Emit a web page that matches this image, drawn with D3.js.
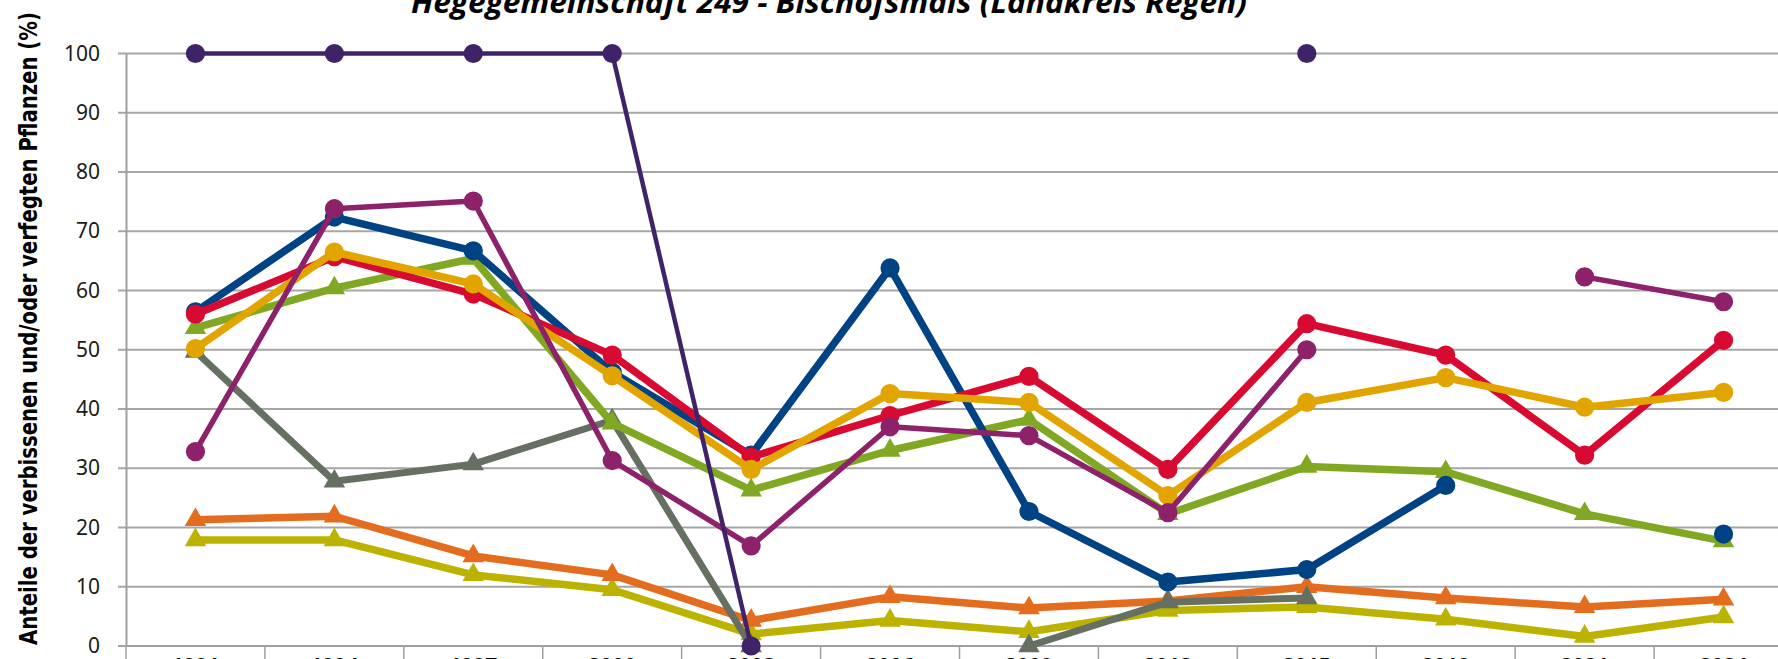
<!DOCTYPE html>
<html>
<head>
<meta charset="utf-8">
<script src="https://cdnjs.cloudflare.com/ajax/libs/d3/7.8.5/d3.min.js"></script>
<style>
    body {margin: 0; background: #fff; overflow: hidden;}
    svg {display: block;}
</style>
</head>
<body>
<div id="chart"></div>
<script>
    // years on the x axis
    var years = ["1991", "1994", "1997", "2000", "2003", "2006", "2009", "2012", "2015", "2018", "2021", "2024"];
    var yTicks = [0, 10, 20, 30, 40, 50, 60, 70, 80, 90, 100];

    // one array per line, null = no value that year
    var olive   = [17.9, 17.9, 12.0, 9.5, 2.0, 4.3, 2.4, 6.0, 6.6, 4.5, 1.6, 4.9];
    var orange  = [21.3, 21.9, 15.2, 12.0, 4.3, 8.3, 6.4, 7.6, 10.0, 8.1, 6.6, 7.9];
    var grey    = [49.7, 27.8, 30.7, 38.1, 0, null, 0, 7.4, 8.1, null, null, null];
    var green   = [53.7, 60.4, 65.4, 37.6, 26.3, 33.0, 38.2, 22.3, 30.3, 29.4, 22.3, 17.7];
    var blue    = [56.4, 72.4, 66.7, 46.2, 32.2, 63.8, 22.7, 10.8, 12.9, 27.1, null, 18.9];
    var red     = [56.0, 65.7, 59.4, 49.1, 31.9, 38.9, 45.5, 29.8, 54.4, 49.1, 32.2, 51.6];
    var yellow  = [50.2, 66.5, 61.1, 45.6, 29.8, 42.6, 41.1, 25.4, 41.1, 45.3, 40.3, 42.8];
    var magenta = [32.8, 73.8, 75.1, 31.3, 16.9, 37.0, 35.5, 22.5, 50.0, null, 62.3, 58.1];
    var purple  = [100, 100, 100, 100, 0, null, null, null, 100, null, null, null];

    var series = [
        {values: olive,   color: "#bbb300", width: 7.5, marker: "triangle"},
        {values: orange,  color: "#e46c1f", width: 7.5, marker: "triangle"},
        {values: grey,    color: "#667062", width: 7,   marker: "triangle"},
        {values: green,   color: "#80a823", width: 7.5, marker: "triangle"},
        {values: blue,    color: "#004385", width: 7.5, marker: "circle"},
        {values: red,     color: "#d90a31", width: 7.5, marker: "circle"},
        {values: yellow,  color: "#e2a500", width: 7.5, marker: "circle"},
        {values: magenta, color: "#8d216a", width: 5.5, marker: "circle"},
        {values: purple,  color: "#3f2369", width: 4.5, marker: "circle"}
    ];

    var W = 1778, H = 659;
    var plot = {left: 126, right: 1793, top: 53.5, bottom: 646};

    var svg = d3.select("#chart").append("svg")
        .attr("width", W)
        .attr("height", H);

    var x = d3.scalePoint()
        .domain(years)
        .range([plot.left, plot.right])
        .padding(0.5);
    var band = x.step();

    var y = d3.scaleLinear()
        .domain([0, 100])
        .range([plot.bottom, plot.top]);

    // gridlines
    svg.append("g")
        .selectAll("line")
        .data(yTicks)
        .enter().append("line")
        .attr("x1", plot.left - 8)
        .attr("x2", W)
        .attr("y1", function(d){ return y(d); })
        .attr("y2", function(d){ return y(d); })
        .attr("stroke", "#a6a6a6")
        .attr("stroke-width", 2);

    // y axis
    var yAxis = svg.append("g")
        .attr("transform", "translate(" + plot.left + ",0)")
        .call(d3.axisLeft(y).tickValues(yTicks).tickSize(0).tickPadding(26));
    yAxis.select(".domain").attr("stroke", "#a0a0a0").attr("stroke-width", 2);
    yAxis.selectAll("text")
        .attr("font-family", "'Noto Sans', 'Open Sans', sans-serif")
        .attr("font-size", "21px")
        .attr("fill", "#1a1a1a");

    // x axis with ticks between the categories
    svg.append("line")
        .attr("x1", plot.left).attr("x2", W)
        .attr("y1", plot.bottom).attr("y2", plot.bottom)
        .attr("stroke", "#a0a0a0").attr("stroke-width", 2);
    svg.append("g")
        .selectAll("line")
        .data(years)
        .enter().append("line")
        .attr("x1", function(d){ return x(d) - band / 2; })
        .attr("x2", function(d){ return x(d) - band / 2; })
        .attr("y1", plot.bottom)
        .attr("y2", H)
        .attr("stroke", "#a0a0a0")
        .attr("stroke-width", 1.5);
    svg.append("g")
        .selectAll("text")
        .data(years)
        .enter().append("text")
        .attr("x", function(d){ return x(d); })
        .attr("y", 673)
        .attr("text-anchor", "middle")
        .attr("font-family", "'Noto Sans', sans-serif")
        .attr("font-weight", "bold")
        .attr("font-size", "21px")
        .text(function(d){ return d; });

    // lines and markers
    series.forEach(function(s)
    {
        var pts = years.map(function(yr, i){ return {year: yr, v: s.values[i]}; });
        var g = svg.append("g");

        g.append("path")
            .datum(pts)
            .attr("fill", "none")
            .attr("stroke", s.color)
            .attr("stroke-width", s.width)
            .attr("stroke-linejoin", "round")
            .attr("d", d3.line()
                .defined(function(d){ return d.v != null; })
                .x(function(d){ return x(d.year); })
                .y(function(d){ return y(d.v); }));

        var shape = s.marker == "circle" ? d3.symbolCircle : d3.symbolTriangle;
        var size = s.marker == "circle" ? 290 : 200;
        g.selectAll(".m")
            .data(pts.filter(function(d){ return d.v != null; }))
            .enter().append("path")
            .attr("transform", function(d){ return "translate(" + x(d.year) + "," + y(d.v) + ")"; })
            .attr("d", d3.symbol().type(shape).size(size))
            .attr("fill", s.color);
    });

    // title, cut off at the top like the original
    svg.append("text")
        .attr("x", 829)
        .attr("y", 13)
        .attr("text-anchor", "middle")
        .attr("font-family", "'Open Sans', sans-serif")
        .attr("font-weight", "bold")
        .attr("font-style", "italic")
        .attr("font-size", "31px")
        .attr("textLength", 836)
        .attr("lengthAdjust", "spacingAndGlyphs")
        .text("Hegegemeinschaft 249 - Bischofsmais (Landkreis Regen)");

    // y axis title
    svg.append("text")
        .attr("transform", "translate(37," + ((12 + 645) / 2) + ") rotate(-90)")
        .attr("text-anchor", "middle")
        .attr("font-family", "'DejaVu Sans', sans-serif")
        .attr("font-weight", "bold")
        .attr("font-size", "25px")
        .attr("textLength", 633)
        .attr("lengthAdjust", "spacingAndGlyphs")
        .text("Anteile der verbissenen und/oder verfegten Pflanzen (%)");
</script>
</body>
</html>
